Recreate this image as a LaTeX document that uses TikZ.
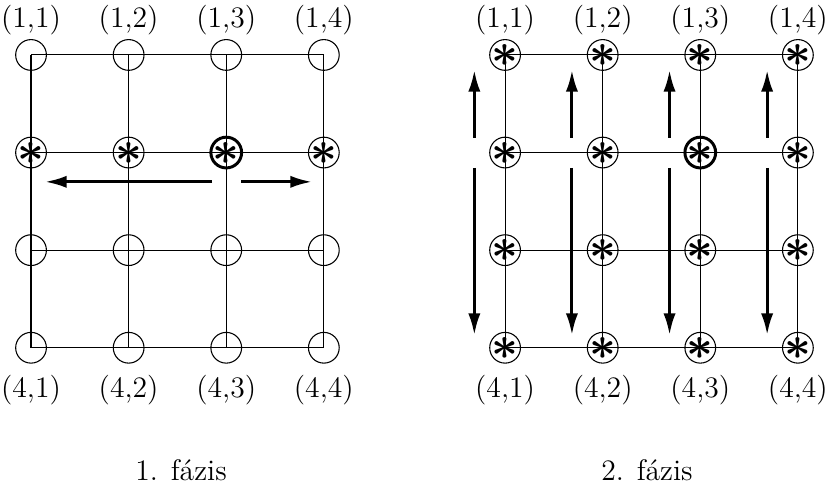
\documentclass[tikz,border=0pt]{standalone}
\usepackage{amsmath}
\usetikzlibrary{arrows.meta}
\newcommand{\csillag}{\raisebox{-4.3pt}[0pt][0pt]{\LARGE$\boldsymbol{\ast}$}}
\begin{document}
\begin{tikzpicture}[x=12.7mm, y=12.7mm,
		pont/.style={draw, circle, minimum size=4mm, inner sep=0pt, line width=0.4pt},
		racs/.style={line width=0.4pt},
		nyil/.style={->, line width=1.1pt},
		felirat/.style={inner sep=1pt},
		>={Latex[length=8pt, width=4.5pt]},   %Pfeilspitzen
		font=\fontsize{11pt}{13pt}\selectfont]
		%Bildbereich
		\useasboundingbox (-0.318,0.563) rectangle (8.145,-4.417);
		%Punkte links (nur Zeile 2 mit Stern)
		\foreach \i in {1,...,4} \foreach \j in {1,...,4}
			\node[pont] (l-\i-\j) at (\j-1,1-\i) {\ifnum\i=2 \csillag\fi};
		%Punkte rechts
		\foreach \i in {1,...,4} \foreach \j in {1,...,4}
			\node[pont] (r-\i-\j) at (\j+3.857,1-\i) {\csillag};
		%Gitter zeichnen
		\foreach \k in {1,...,4} {
			\draw[racs] (l-\k-1.center) -- (l-\k-4.center);
			\draw[racs] (l-1-\k.center) -- (l-4-\k.center);
			\draw[racs] (r-\k-1.center) -- (r-\k-4.center);
			\draw[racs] (r-1-\k.center) -- (r-4-\k.center);
		}
		%aktuelles Element
		\draw[line width=1.1pt] (l-2-3.center) circle (2mm);
		\draw[line width=1.1pt] (r-2-3.center) circle (2mm);
		%Beschriftung
		\foreach \j in {1,...,4} {
			\node[felirat] (lt-\j) at ([yshift=4.6mm]l-1-\j.center) {(1,\j)};
			\node[felirat] (lb-\j) at ([yshift=-5.5mm]l-4-\j.center) {(4,\j)};
			\node[felirat] (rt-\j) at ([yshift=4.6mm]r-1-\j.center) {(1,\j)};
			\node[felirat] (rb-\j) at ([yshift=-5.5mm]r-4-\j.center) {(4,\j)};
		}
		\node (f1) at (1.537,-4.25) {1. fázis};
		\node (f2) at (6.311,-4.25) {2. fázis};
		%Pfeile 1. Phase
		\draw[nyil] ([shift={(-0.145,-0.3)}]l-2-3.center) -- ([shift={(-1.857,-0.3)}]l-2-3.center);
		\draw[nyil] ([shift={(0.152,-0.3)}]l-2-3.center) -- ([shift={(0.879,-0.3)}]l-2-3.center);
		%Pfeile 2. Phase
		\foreach \j in {1,...,4} {
			\draw[nyil] ([shift={(-0.315,0.15)}]r-2-\j.center) -- ([shift={(-0.315,0.846)}]r-2-\j.center);
			\draw[nyil] ([shift={(-0.315,-0.158)}]r-2-\j.center) -- ([shift={(-0.315,-1.87)}]r-2-\j.center);
		}
	\end{tikzpicture}
\end{document}
